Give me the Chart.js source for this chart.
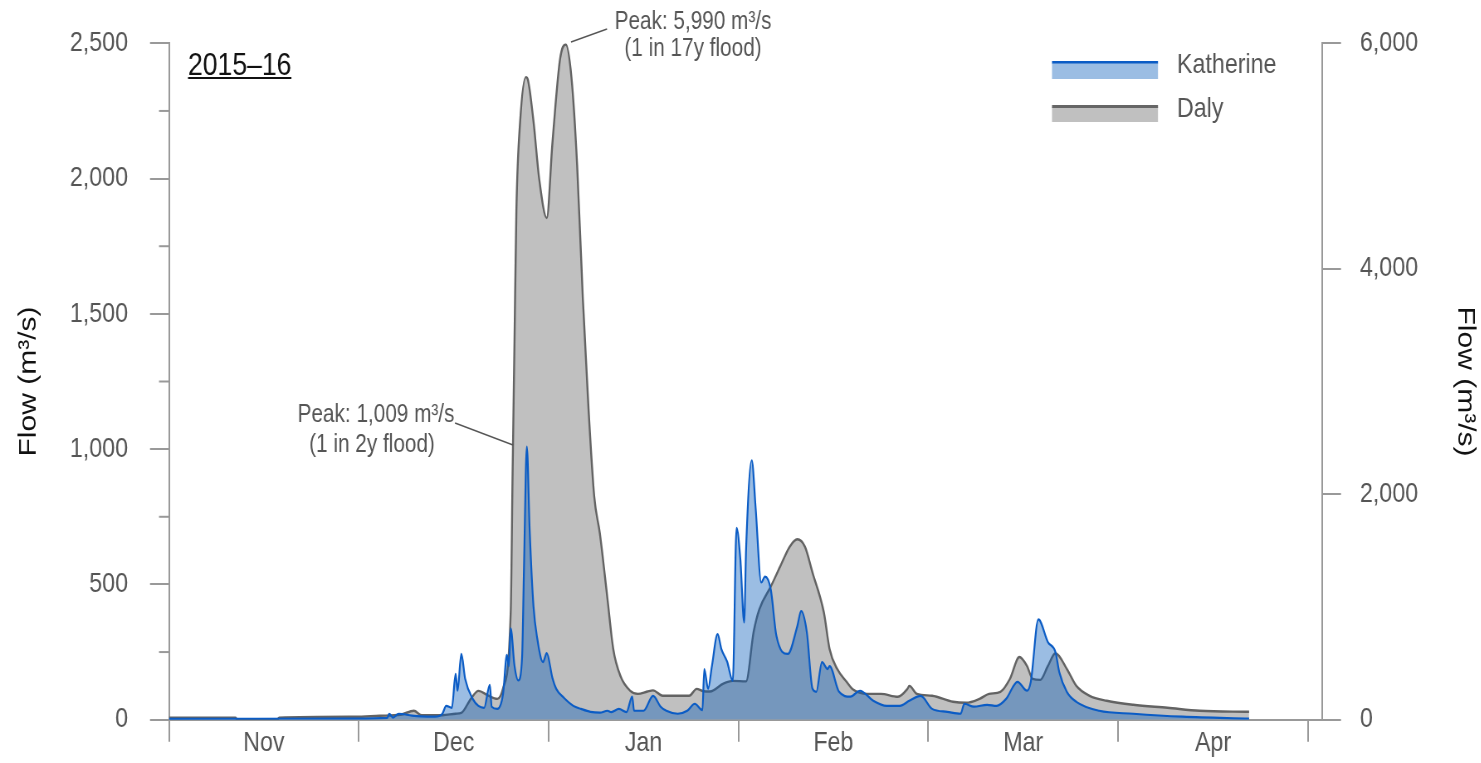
<!DOCTYPE html>
<html>
<head>
<meta charset="utf-8">
<title>Katherine and Daly flow 2015–16</title>
<script src="https://cdn.jsdelivr.net/npm/chart.js@4.4.1/dist/chart.umd.min.js"></script>
<style>
  html, body { margin: 0; padding: 0; background: #fff; overflow: hidden; }
  #wrap { position: absolute; left: 0; top: 0; height: 763px; transform-origin: 0 0; }
</style>
</head>
<body>
<div id="wrap"><canvas id="flowChart"></canvas></div>
<script>
// Month labels (each month gets an equal-width slot on the x axis)
const monthLabels = ['Nov', 'Dec', 'Jan', 'Feb', 'Mar', 'Apr'];

// Katherine River flow (m3/s, left axis), x = months since 1 Nov
const kathT = [0.00, 0.98, 1.15, 1.16, 1.18, 1.21, 1.28, 1.33, 1.40, 1.44, 1.46, 1.49, 1.51, 1.52, 1.54,
  1.56, 1.60, 1.63, 1.66, 1.69, 1.70, 1.73, 1.76, 1.78, 1.79, 1.80, 1.82, 1.84, 1.86, 1.87,
  1.885, 1.90, 1.92, 1.94, 1.97, 1.99, 2.02, 2.04, 2.08, 2.13, 2.17, 2.22, 2.27, 2.31, 2.33,
  2.37, 2.41, 2.44, 2.45, 2.50, 2.55, 2.59, 2.62, 2.68, 2.73, 2.77, 2.81, 2.82, 2.84, 2.86,
  2.89, 2.91, 2.94, 2.97, 2.99, 3.01, 3.03, 3.04, 3.07, 3.09, 3.12, 3.14, 3.17, 3.20, 3.26,
  3.31, 3.33, 3.36, 3.39, 3.41, 3.44, 3.47, 3.48, 3.53, 3.59, 3.64, 3.71, 3.78, 3.85, 3.90,
  3.96, 4.02, 4.10, 4.17, 4.19, 4.24, 4.31, 4.36, 4.41, 4.47, 4.52, 4.54, 4.58, 4.63, 4.67,
  4.69, 4.73, 4.78, 4.90, 5.08, 5.34, 5.69];
const kathQ = [3, 4, 7, 22, 8, 22, 15, 12, 11, 22, 51, 44, 169, 107, 243,
  151, 77, 51, 44, 129, 48, 40, 96, 240, 198, 338, 200, 145, 230, 560,
  1009, 700, 420, 300, 213, 246, 154, 114, 81, 51, 40, 29, 26, 33, 28,
  40, 28, 85, 33, 33, 88, 48, 33, 22, 33, 59, 35, 187, 114, 198,
  316, 261, 215, 143, 709, 592, 360, 629, 959, 787, 507, 529, 482, 309, 243,
  346, 401, 324, 114, 103, 213, 187, 198, 103, 85, 107, 70, 51, 51, 70,
  88, 40, 29, 22, 59, 48, 55, 51, 77, 140, 107, 140, 371, 287, 250,
  176, 103, 66, 33, 22, 11, 4];

// Daly River flow (m3/s, right axis)
const dalyT = [0.00, 0.35, 0.36, 0.57, 0.58, 0.98, 1.11, 1.22, 1.29, 1.33, 1.44, 1.51, 1.54, 1.59, 1.63,
  1.68, 1.73, 1.76, 1.80, 1.81, 1.82, 1.83, 1.85, 1.88, 1.89, 1.92, 1.95, 1.99, 2.02, 2.06,
  2.09, 2.12, 2.15, 2.18, 2.21, 2.24, 2.27, 2.31, 2.34, 2.38, 2.43, 2.47, 2.52, 2.55, 2.60,
  2.74, 2.78, 2.81, 2.85, 2.92, 2.97, 3.04, 3.08, 3.11, 3.17, 3.22, 3.27, 3.31, 3.35, 3.39,
  3.45, 3.48, 3.52, 3.57, 3.60, 3.68, 3.75, 3.84, 3.89, 3.90, 3.94, 4.02, 4.13, 4.20, 4.27,
  4.32, 4.38, 4.43, 4.48, 4.52, 4.55, 4.59, 4.63, 4.67, 4.73, 4.78, 4.85, 4.94, 5.08, 5.26,
  5.43, 5.69];
const dalyQ = [18, 18, 0, 0, 18, 26, 35, 44, 80, 40, 40, 53, 60, 185, 256,
  215, 185, 280, 950, 2180, 3350, 4520, 5310, 5700, 5680, 5310, 4800, 4450, 5120, 5860,
  5990, 5700, 4920, 3740, 2760, 1980, 1650, 1070, 630, 380, 256, 229, 250, 260, 212,
  212, 273, 255, 250, 320, 344, 340, 780, 980, 1180, 1360, 1535, 1600, 1535, 1305,
  950, 626, 450, 335, 273, 229, 229, 203, 273, 300, 229, 212, 159, 150, 185,
  229, 247, 362, 556, 476, 362, 353, 476, 590, 450, 300, 212, 168, 132, 106,
  79, 70];

// Axis ticks
const kathMajor = 500, kathMinor = [250, 750, 1250, 1750, 2250];
const dalyMajor = 2000;

// The reference is horizontally compressed; draw wide, then squeeze
const SX = 0.83;
const X = px => px / SX;
const wrap = document.getElementById('wrap');
wrap.style.width = (1481 / SX) + 'px';
wrap.style.transform = 'scaleX(' + SX + ')';

const FONT = '"Liberation Sans", Arial, sans-serif';
Chart.defaults.font.family = FONT;

const extras = {
  id: 'extras',
  afterDraw(chart) {
    const ctx = chart.ctx;
    const ya = chart.scales.y;
    const area = chart.chartArea;
    ctx.save();

    // minor ticks on the Katherine axis
    ctx.strokeStyle = '#999';
    ctx.lineWidth = 2;
    kathMinor.forEach(v => {
      const py = ya.getPixelForValue(v);
      ctx.beginPath(); ctx.moveTo(area.left - X(10), py); ctx.lineTo(area.left, py); ctx.stroke();
    });

    // season label
    ctx.fillStyle = '#111';
    ctx.font = '32px ' + FONT;
    ctx.textAlign = 'left';
    ctx.textBaseline = 'alphabetic';
    ctx.fillText('2015–16', X(188), 75);
    const tw = ctx.measureText('2015–16').width;
    ctx.fillRect(X(188), 77, tw, 2);

    // legend
    const lx = X(1052), lw = X(1158) - X(1052);
    ctx.fillStyle = '#9bbde3';
    ctx.fillRect(lx, 63, lw, 16);
    ctx.fillStyle = '#0b5cc5';
    ctx.fillRect(lx, 61, lw, 2.5);
    ctx.fillStyle = '#c0c0c0';
    ctx.fillRect(lx, 107, lw, 15);
    ctx.fillStyle = '#666';
    ctx.fillRect(lx, 105, lw, 3);
    ctx.fillStyle = '#555';
    ctx.font = '28px ' + FONT;
    ctx.fillText('Katherine', X(1177), 73);
    ctx.fillText('Daly', X(1177), 117);

    // peak annotations
    ctx.font = '25px ' + FONT;
    ctx.textAlign = 'center';
    ctx.fillText('Peak: 5,990 m³/s', X(693), 29);
    ctx.fillText('(1 in 17y flood)', X(693), 56);
    ctx.fillText('Peak: 1,009 m³/s', X(376), 422);
    ctx.fillText('(1 in 2y flood)', X(372), 452);
    ctx.strokeStyle = '#555';
    ctx.lineWidth = 1.5;
    ctx.beginPath(); ctx.moveTo(X(571), 42); ctx.lineTo(X(607), 29); ctx.stroke();
    ctx.beginPath(); ctx.moveTo(X(455), 423); ctx.lineTo(X(513), 445); ctx.stroke();

    ctx.restore();
  }
};

const toPoints = (t, q) => t.map((v, i) => ({ x: v, y: q[i] }));

new Chart(document.getElementById('flowChart'), {
  type: 'line',
  data: {
    datasets: [
      {
        label: 'Katherine',
        data: toPoints(kathT, kathQ),
        yAxisID: 'y',
        borderColor: '#0b5cc5',
        backgroundColor: 'rgba(5, 90, 185, 0.4)',
        borderWidth: 2.2,
        fill: 'origin',
        pointRadius: 0,
        cubicInterpolationMode: 'monotone'
      },
      {
        label: 'Daly',
        data: toPoints(dalyT, dalyQ),
        yAxisID: 'y1',
        borderColor: '#636363',
        backgroundColor: '#c0c0c0',
        borderWidth: 2.4,
        fill: 'origin',
        pointRadius: 0,
        cubicInterpolationMode: 'monotone'
      }
    ]
  },
  options: {
    responsive: true,
    maintainAspectRatio: false,
    animation: false,
    layout: { padding: { top: 39, left: 0, right: 0, bottom: 0 } },
    plugins: {
      legend: { display: false },
      tooltip: { enabled: false }
    },
    scales: {
      x: {
        type: 'linear',
        min: 0,
        max: 6.074,
        afterBuildTicks(scale) {
          const ticks = [];
          for (let i = 0; i <= 12; i++) ticks.push({ value: i / 2 });
          scale.ticks = ticks;
        },
        afterFit(scale) { scale.height = 40; },
        ticks: {
          autoSkip: false,
          maxRotation: 0,
          padding: -15,
          color: '#555',
          font: { size: 28 },
          callback: v => Number.isInteger(v) ? '' : monthLabels[Math.floor(v)]
        },
        grid: {
          drawOnChartArea: false,
          drawTicks: true,
          tickLength: 22,
          lineWidth: 2,
          color: c => (c.tick && Number.isInteger(c.tick.value)) ? '#999' : 'rgba(0,0,0,0)'
        },
        border: { display: true, color: '#999', width: 2 }
      },
      y: {
        position: 'left',
        min: 0,
        max: 2500,
        afterFit(scale) { scale.width = X(169); },
        ticks: {
          stepSize: kathMajor,
          padding: X(22),
          color: '#555',
          font: { size: 28 },
          callback: v => v.toLocaleString('en-US')
        },
        grid: {
          drawOnChartArea: false,
          drawTicks: true,
          tickLength: X(19),
          lineWidth: 2,
          color: '#999'
        },
        border: { display: true, color: '#999', width: 2 },
        title: {
          display: true,
          text: 'Flow (m³/s)',
          color: '#111',
          font: { size: 30 },
          padding: { top: 17 }
        }
      },
      y1: {
        position: 'right',
        min: 0,
        max: 6000,
        afterFit(scale) { scale.width = X(159); },
        ticks: {
          stepSize: dalyMajor,
          padding: X(19),
          color: '#555',
          font: { size: 28 },
          callback: v => v.toLocaleString('en-US')
        },
        grid: {
          drawOnChartArea: false,
          drawTicks: true,
          tickLength: X(19),
          lineWidth: 2,
          color: '#999'
        },
        border: { display: true, color: '#999', width: 2 },
        title: {
          display: true,
          text: 'Flow (m³/s)',
          color: '#111',
          font: { size: 30 },
          padding: { top: 1 }
        }
      }
    }
  },
  plugins: [extras]
});
</script>
</body>
</html>
